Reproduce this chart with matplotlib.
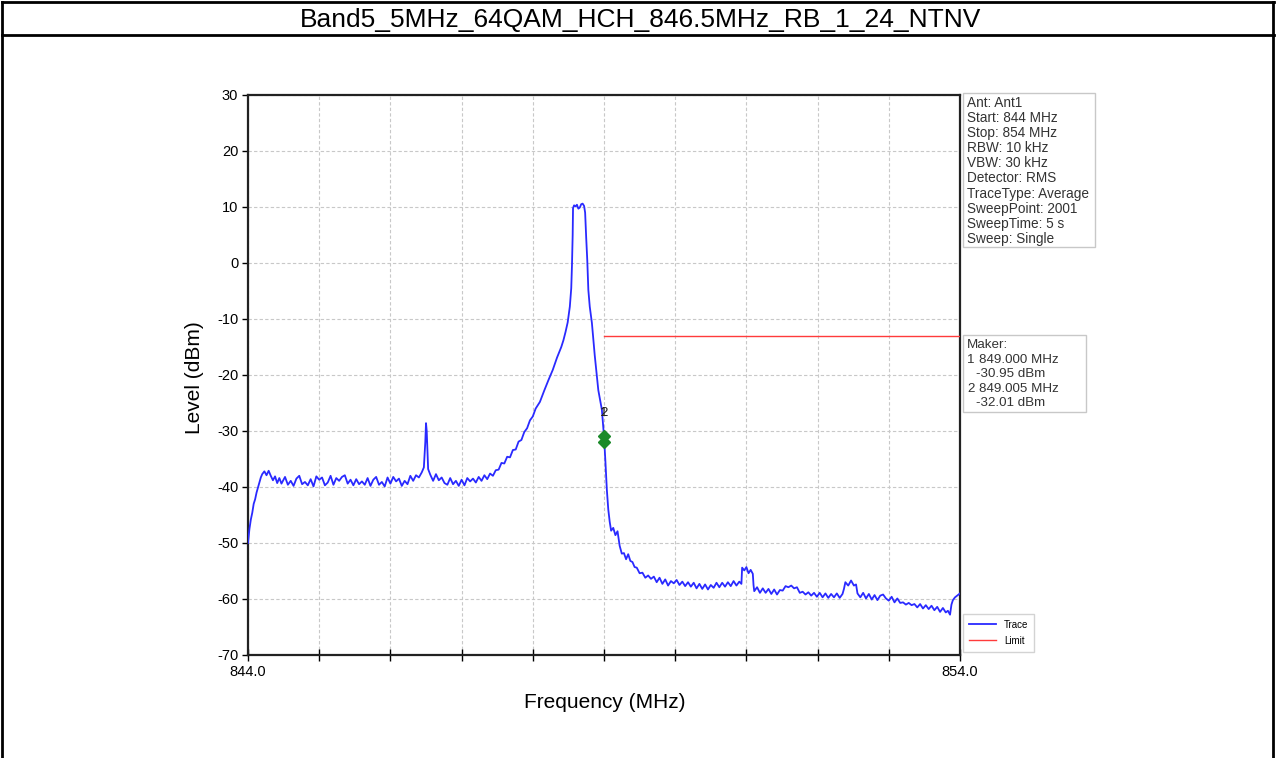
import matplotlib
matplotlib.use("Agg")
import matplotlib.pyplot as plt
from matplotlib.lines import Line2D
from matplotlib.patches import Rectangle

plt.rcParams['font.family'] = ['Liberation Sans', 'DejaVu Sans']

# --- DATA ---
title = "Band5_5MHz_64QAM_HCH_846.5MHz_RB_1_24_NTNV"

# trace (MHz / dBm), rows kept the same length
trace_freq = [
    844.00, 844.02, 844.04, 844.06, 844.08, 844.10, 844.12, 844.14, 844.16, 844.18,
    844.20, 844.23, 844.26, 844.29, 844.32, 844.35, 844.38, 844.41, 844.44, 844.47,
    844.52, 844.56, 844.60, 844.64, 844.68, 844.72, 844.76, 844.80, 844.84, 844.88,
    844.92, 844.96, 845.00, 845.04, 845.08, 845.12, 845.16, 845.20, 845.24, 845.28,
    845.32, 845.36, 845.40, 845.44, 845.48, 845.52, 845.56, 845.60, 845.64, 845.68,
    845.72, 845.76, 845.80, 845.84, 845.88, 845.92, 845.96, 846.00, 846.04, 846.08,
    846.12, 846.16, 846.20, 846.24, 846.28, 846.32, 846.36, 846.40, 846.44, 846.47,
    846.49, 846.50, 846.51, 846.53, 846.56, 846.60, 846.64, 846.68, 846.72, 846.76,
    846.80, 846.84, 846.88, 846.92, 846.96, 847.00, 847.04, 847.08, 847.12, 847.16,
    847.20, 847.24, 847.28, 847.32, 847.36, 847.40, 847.44, 847.48, 847.52, 847.56,
    847.60, 847.64, 847.68, 847.72, 847.76, 847.80, 847.84, 847.88, 847.92, 847.96,
    848.00, 848.04, 848.10, 848.16, 848.22, 848.28, 848.34, 848.40, 848.43, 848.46,
    848.49, 848.52, 848.54, 848.55, 848.56, 848.565, 848.58, 848.60, 848.62, 848.64,
    848.66, 848.68, 848.70, 848.72, 848.735, 848.75, 848.765, 848.78, 848.80, 848.83,
    848.87, 848.92, 848.97, 849.00, 849.02, 849.04, 849.06, 849.08, 849.10, 849.13,
    849.16, 849.19, 849.22, 849.25, 849.28, 849.31, 849.34, 849.37, 849.40, 849.43,
    849.46, 849.50, 849.54, 849.58, 849.62, 849.66, 849.70, 849.74, 849.78, 849.82,
    849.86, 849.90, 849.94, 849.98, 850.02, 850.06, 850.10, 850.14, 850.18, 850.22,
    850.26, 850.30, 850.34, 850.38, 850.42, 850.46, 850.50, 850.54, 850.58, 850.62,
    850.66, 850.70, 850.74, 850.78, 850.82, 850.86, 850.90, 850.93, 850.94, 850.97,
    851.00, 851.03, 851.06, 851.09, 851.10, 851.11, 851.15, 851.19, 851.23, 851.27,
    851.31, 851.35, 851.39, 851.43, 851.47, 851.51, 851.55, 851.59, 851.63, 851.67,
    851.71, 851.75, 851.79, 851.83, 851.87, 851.91, 851.95, 851.99, 852.03, 852.07,
    852.11, 852.15, 852.19, 852.23, 852.27, 852.31, 852.35, 852.37, 852.39, 852.43,
    852.47, 852.51, 852.54, 852.56, 852.60, 852.64, 852.68, 852.72, 852.76, 852.80,
    852.84, 852.88, 852.92, 852.96, 853.00, 853.04, 853.08, 853.12, 853.16, 853.20,
    853.24, 853.28, 853.32, 853.36, 853.40, 853.44, 853.48, 853.52, 853.56, 853.60,
    853.64, 853.68, 853.72, 853.76, 853.80, 853.83, 853.86, 853.88, 853.90, 853.93,
    853.96, 854.00,
]

trace_level = [
    -50.0, -47.5, -45.8, -44.6, -43.0, -42.2, -41.0, -40.1, -39.2, -38.3,
    -37.7, -37.2, -37.9, -37.1, -38.0, -38.8, -38.1, -39.3, -38.4, -39.4,
    -38.2, -39.6, -38.9, -39.8, -38.5, -38.0, -39.5, -39.1, -39.7, -38.6,
    -39.9, -38.1, -38.7, -38.3, -39.7, -39.2, -38.0, -39.6, -38.4, -38.9,
    -38.2, -37.9, -39.4, -38.7, -39.7, -38.6, -39.5, -39.0, -39.6, -38.4,
    -39.8, -38.7, -38.2, -39.6, -39.1, -39.9, -38.3, -39.4, -38.2, -39.0,
    -38.5, -39.8, -38.9, -39.5, -38.0, -38.9, -37.9, -38.3, -37.4, -36.5,
    -32.0, -28.6, -30.0, -36.8, -37.8, -38.9, -37.7, -38.8, -38.3, -39.3,
    -39.6, -38.4, -39.5, -38.9, -39.8, -38.7, -39.7, -38.4, -39.0, -38.5,
    -39.2, -38.2, -38.9, -37.9, -38.6, -37.6, -38.0, -37.0, -36.9, -35.7,
    -35.8, -34.6, -34.7, -33.4, -33.3, -31.9, -31.6, -30.2, -29.5, -28.1,
    -27.4, -26.0, -24.8, -22.8, -20.9, -19.1, -16.9, -15.0, -13.8, -12.3,
    -10.6, -7.8, -4.5, -0.5, 5.0, 9.8, 10.3, 10.1, 10.4, 9.7,
    9.9, 10.5, 10.6, 10.2, 9.0, 4.5, 0.5, -4.8, -7.8, -10.7,
    -16.5, -22.7, -26.2, -30.95, -35.5, -40.5, -44.0, -46.2, -47.8, -47.3,
    -48.6, -47.9, -50.5, -51.9, -51.8, -52.9, -52.0, -53.2, -53.4, -54.3,
    -54.4, -55.4, -55.3, -56.2, -55.8, -56.4, -56.0, -57.0, -56.2, -57.3,
    -56.5, -57.6, -56.8, -57.2, -56.6, -57.5, -56.9, -57.7, -57.0, -57.8,
    -57.1, -58.1, -57.3, -58.2, -57.4, -58.3, -57.5, -58.0, -57.1, -57.9,
    -57.1, -57.8, -57.0, -57.7, -56.8, -57.6, -56.9, -57.3, -54.4, -54.9,
    -54.3, -55.4, -54.8, -55.5, -57.5, -58.6, -57.9, -58.9, -58.1, -58.9,
    -58.2, -59.1, -58.3, -59.2, -58.4, -58.5, -57.7, -57.9, -57.6, -58.1,
    -57.9, -58.9, -58.7, -59.2, -58.8, -59.4, -58.9, -59.6, -58.9, -59.7,
    -59.0, -59.8, -59.1, -59.7, -59.0, -59.8, -59.1, -58.2, -57.0, -57.6,
    -56.7, -57.6, -57.4, -59.0, -59.7, -58.9, -59.9, -59.1, -60.1, -59.3,
    -60.2, -59.4, -59.2, -59.9, -60.3, -59.6, -60.6, -59.9, -60.7, -60.6,
    -61.0, -60.7, -61.1, -60.9, -61.5, -60.9, -61.7, -61.1, -61.8, -61.2,
    -62.0, -61.4, -62.3, -61.6, -62.4, -62.1, -62.8, -61.0, -60.2, -59.7,
    -59.4, -59.0,
]

limit_freq = [849.0, 854.0]
limit_level = [-13.0, -13.0]

marker_freq = [849.000, 849.005]
marker_level = [-30.95, -32.01]
marker_ids = ["1", "2"]

x_ticks = [844, 845, 846, 847, 848, 849, 850, 851, 852, 853, 854]
x_tick_labels = ["844.0", "", "", "", "", "", "", "", "", "", "854.0"]
y_ticks = [30, 20, 10, 0, -10, -20, -30, -40, -50, -60, -70]

info_lines = ["Ant: Ant1", "Start: 844 MHz", "Stop: 854 MHz", "RBW: 10 kHz",
              "VBW: 30 kHz", "Detector: RMS", "TraceType: Average",
              "SweepPoint: 2001", "SweepTime: 5 s", "Sweep: Single"]

W, H = 1276, 758


def fx(px):
    return px / W


def fy(py):
    return 1 - py / H


fig = plt.figure(figsize=(W / 100, H / 100), dpi=100)
fig.patch.set_facecolor('white')

# --- table frame round the chart ---
for (x0, y0, x1, y1) in [(2, 2, 1274, 2), (2, 35, 1274, 35), (2, 2, 2, 758), (1273, 2, 1273, 758)]:
    fig.add_artist(Line2D([fx(x0), fx(x1)], [fy(y0), fy(y1)], color='black', lw=2))
fig.text(fx(641), fy(20), title, ha='center', va='center', fontsize=19)

# --- axes ---
ax = fig.add_axes([fx(248), fy(655), fx(960) - fx(248), fy(95) - fy(655)])
ax.plot(trace_freq, trace_level, color='#2a2aff', lw=1.3, label='Trace', zorder=3)
ax.plot(limit_freq, limit_level, color='#ff3b3b', lw=1.0, label='Limit', zorder=3)
ax.plot(marker_freq, marker_level, linestyle='none', marker='D', markersize=6.5,
        color='#1b8a2a', zorder=4)
for f, lv, mid in zip(marker_freq, marker_level, marker_ids):
    ax.text(f, -26.8, mid, ha='center', va='center', fontsize=9.5, color='#222222', zorder=5)

ax.set_xlim(844, 854)
ax.set_ylim(-70, 30)
ax.set_xticks(x_ticks)
ax.set_xticklabels(x_tick_labels, fontsize=10.5)
ax.set_yticks(y_ticks)
ax.set_yticklabels([str(v) for v in y_ticks], fontsize=10.5)
ax.tick_params(axis='x', direction='inout', length=8, width=1, pad=3)
ax.tick_params(axis='y', direction='out', length=4, width=1, pad=3)
ax.grid(True, color='#c8c8c8', linestyle=(0, (3, 2)), lw=0.8)
for sp in ax.spines.values():
    sp.set_linewidth(1.6)
    sp.set_color('#222222')

fig.text(fx(195), fy(378), "Level (dBm)", rotation=90, ha='center', va='center', fontsize=15)
fig.text(fx(605), fy(703), "Frequency (MHz)", ha='center', va='center', fontsize=15)

# --- info box ---
fig.add_artist(Rectangle((fx(963), fy(247)), fx(1095) - fx(963), fy(93) - fy(247),
                         fill=False, edgecolor='#c8c8c8', lw=1))
for i, line in enumerate(info_lines):
    fig.text(fx(967), fy(103 + i * 15.1), line, ha='left', va='center', fontsize=9.8, color='#333333')

# --- marker box ---
fig.add_artist(Rectangle((fx(963), fy(412)), fx(1086) - fx(963), fy(335) - fy(412),
                         fill=False, edgecolor='#c8c8c8', lw=1))
fig.text(fx(967), fy(345), "Maker:", ha='left', va='center', fontsize=9.6, color='#333333')
for i, (f, lv, mid) in enumerate(zip(marker_freq, marker_level, marker_ids)):
    y0 = 360 + i * 28.5
    fig.text(fx(967), fy(y0), mid, ha='left', va='center', fontsize=9.6, color='#333333')
    fig.text(fx(979), fy(y0), f"{f:.3f} MHz", ha='left', va='center', fontsize=9.6, color='#333333')
    fig.text(fx(976), fy(y0 + 14), f"{lv:.2f} dBm", ha='left', va='center', fontsize=9.6, color='#333333')

# --- legend ---
fig.legend(loc='upper left', bbox_to_anchor=(fx(963), fy(614)), fontsize=7,
           frameon=True, fancybox=False, edgecolor='#c8c8c8', handlelength=2.8,
           borderpad=0.6, labelspacing=0.6, borderaxespad=0)

fig.savefig("out.png", dpi=100)
